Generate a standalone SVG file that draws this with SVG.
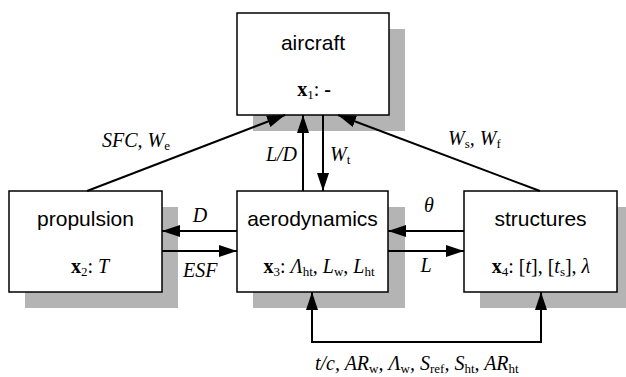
<svg xmlns="http://www.w3.org/2000/svg" width="626" height="377" viewBox="0 0 626 377">
<defs>
<style>
.shadow{fill:#b4b4b4;stroke:none}
.box{fill:#fff;stroke:#000;stroke-width:1.5}
.title{font-family:"Liberation Sans",Arial,sans-serif;font-size:21px;text-anchor:middle;fill:#000}
.var{font-family:"Liberation Serif","Times New Roman",serif;font-size:20px;fill:#000}
.it{font-style:italic}
.b{font-weight:bold;font-style:normal}
.sub{font-size:13px;font-style:normal}
.conn{fill:none;stroke:#000;stroke-width:2}
</style>
<marker id="ah" markerUnits="userSpaceOnUse" markerWidth="18" markerHeight="12" refX="18" refY="6" orient="auto">
<path d="M0,0 L18,6 L0,12 Z" fill="#000"/>
</marker>
</defs>
<rect width="626" height="377" fill="#fff"/>
<g id="aircraft">
<rect class="shadow" x="253" y="29" width="152" height="102"/>
<rect class="box" x="237" y="13" width="152" height="102"/>
<text class="title" x="313" y="50">aircraft</text>
<text class="var" x="314" y="96" text-anchor="middle"><tspan class="b">x</tspan><tspan class="sub" dy="3">1</tspan><tspan dy="-3">: </tspan><tspan class="b">-</tspan></text>
</g>
<g id="propulsion">
<rect class="shadow" x="25" y="207" width="153" height="101"/>
<rect class="box" x="9" y="191" width="153" height="101"/>
<text class="title" x="85.5" y="226">propulsion</text>
<text class="var" x="90" y="273" text-anchor="middle"><tspan class="b">x</tspan><tspan class="sub" dy="3">2</tspan><tspan dy="-3">: </tspan><tspan class="it">T</tspan></text>
</g>
<g id="aerodynamics">
<rect class="shadow" x="253" y="207" width="152" height="101"/>
<rect class="box" x="237" y="191" width="151" height="101"/>
<text class="title" x="312.5" y="226">aerodynamics</text>
<text class="var" x="319" y="273" text-anchor="middle"><tspan class="b">x</tspan><tspan class="sub" dy="3">3</tspan><tspan dy="-3">: </tspan><tspan class="it">Λ</tspan><tspan class="sub" dy="3">ht</tspan><tspan dy="-3">, </tspan><tspan class="it">L</tspan><tspan class="sub" dy="3">w</tspan><tspan dy="-3">, </tspan><tspan class="it">L</tspan><tspan class="sub" dy="3">ht</tspan></text>
</g>
<g id="structures">
<rect class="shadow" x="480" y="207" width="153" height="101"/>
<rect class="box" x="464" y="191" width="153" height="101"/>
<text class="title" x="540.5" y="226">structures</text>
<text class="var" x="541" y="273" text-anchor="middle"><tspan class="b">x</tspan><tspan class="sub" dy="3">4</tspan><tspan dy="-3">: [</tspan><tspan class="it">t</tspan><tspan>], [</tspan><tspan class="it">t</tspan><tspan class="sub" dy="3">s</tspan><tspan dy="-3">], </tspan><tspan class="it">λ</tspan></text>
</g>
<g id="connectors">
<line class="conn" x1="87" y1="191" x2="285" y2="115" marker-end="url(#ah)"/>
<line class="conn" x1="540" y1="191" x2="338" y2="115" marker-end="url(#ah)"/>
<line class="conn" x1="303" y1="191" x2="303" y2="115" marker-end="url(#ah)"/>
<line class="conn" x1="323" y1="115" x2="323" y2="191" marker-end="url(#ah)"/>
<line class="conn" x1="237" y1="231" x2="162" y2="231" marker-end="url(#ah)"/>
<line class="conn" x1="162" y1="251" x2="237" y2="251" marker-end="url(#ah)"/>
<line class="conn" x1="464" y1="231" x2="388" y2="231" marker-end="url(#ah)"/>
<line class="conn" x1="388" y1="251" x2="464" y2="251" marker-end="url(#ah)"/>
<polyline class="conn" points="541,342 312,342 312,292" marker-end="url(#ah)"/>
<line class="conn" x1="541" y1="343" x2="541" y2="292" marker-end="url(#ah)"/>
<text class="var it" x="102" y="147">SFC, W<tspan class="sub" dy="3">e</tspan></text>
<text class="var it" x="448" y="145">W<tspan class="sub" dy="3">s</tspan><tspan dy="-3">, W</tspan><tspan class="sub" dy="3">f</tspan></text>
<text class="var it" x="297" y="161" text-anchor="end">L/D</text>
<text class="var it" x="330" y="161">W<tspan class="sub" dy="3">t</tspan></text>
<text class="var it" x="200" y="222" text-anchor="middle">D</text>
<text class="var it" x="183" y="277">ESF</text>
<text class="var it" x="429" y="212" text-anchor="middle">θ</text>
<text class="var it" x="426" y="272" text-anchor="middle">L</text>
<text class="var it" x="315" y="370">t/c, AR<tspan class="sub" dy="3">w</tspan><tspan dy="-3">, Λ</tspan><tspan class="sub" dy="3">w</tspan><tspan dy="-3">, S</tspan><tspan class="sub" dy="3">ref</tspan><tspan dy="-3">, S</tspan><tspan class="sub" dy="3">ht</tspan><tspan dy="-3">, AR</tspan><tspan class="sub" dy="3">ht</tspan></text>
</g>
</svg>
